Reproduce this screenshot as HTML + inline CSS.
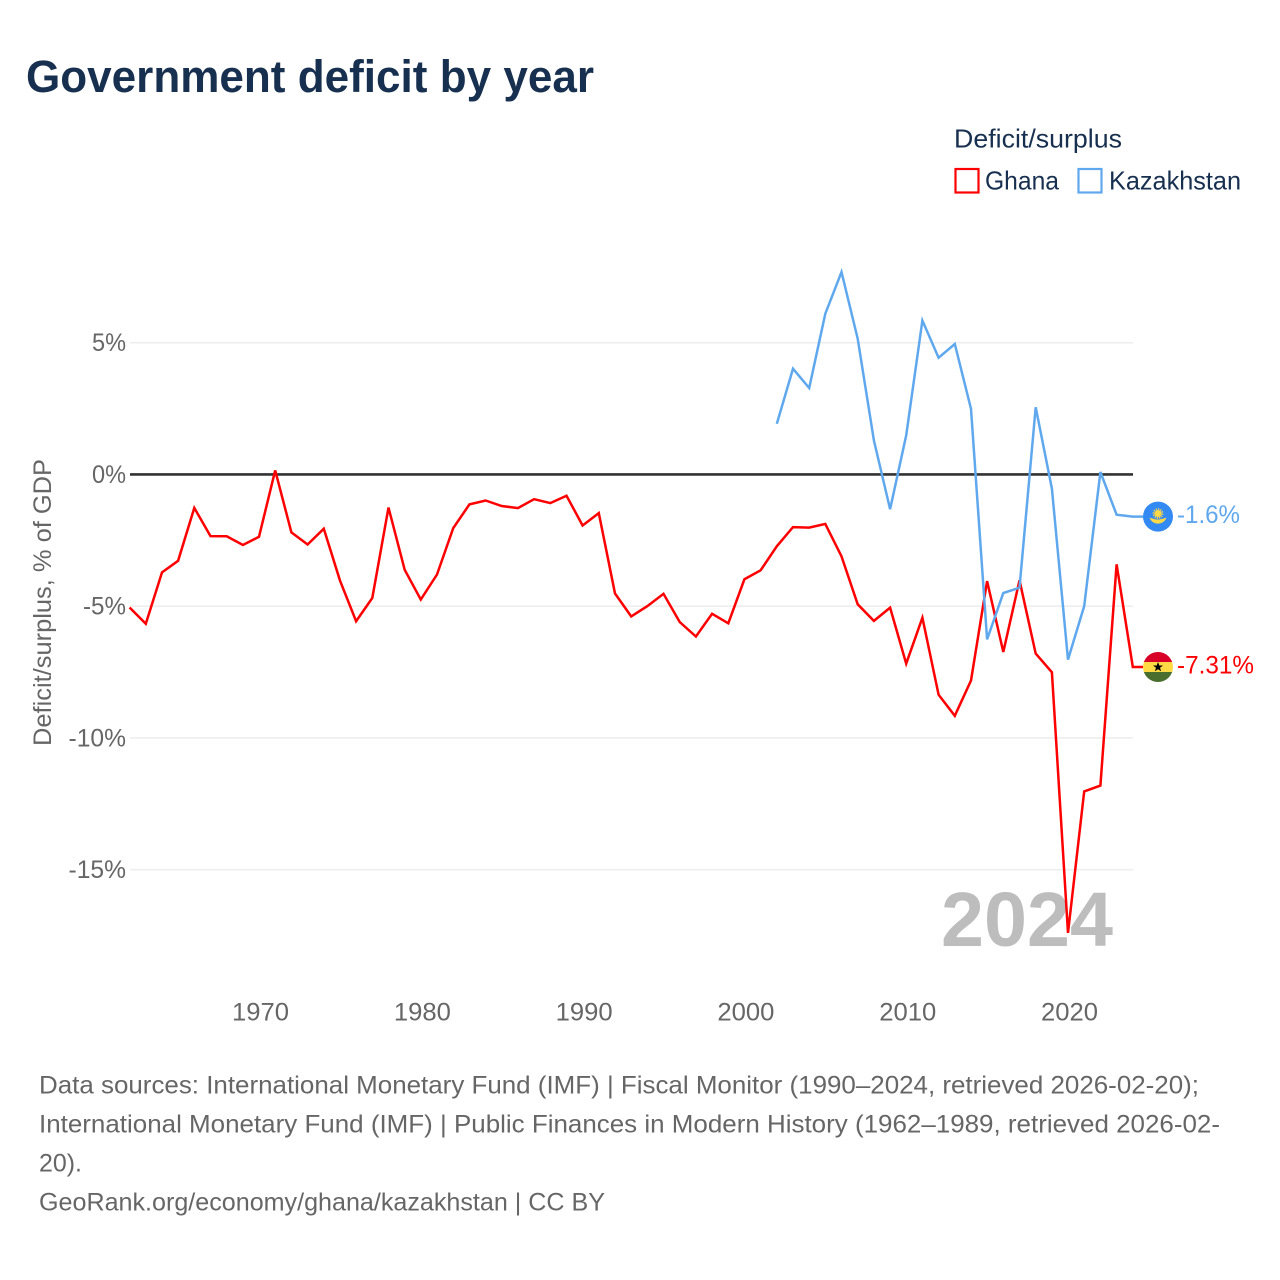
<!DOCTYPE html>
<html lang="en">
<head>
<meta charset="utf-8">
<title>Government deficit by year</title>
<style>
html,body{margin:0;padding:0;background:#fff;width:1280px;height:1280px;overflow:hidden}
svg{display:block;font-family:"Liberation Sans",sans-serif}
.tick{fill:#666;font-size:25px}
.foot{fill:#666;font-size:25px}
.leg{fill:#18304f;font-size:26px}
</style>
</head>
<body>
<svg id="chart" xmlns="http://www.w3.org/2000/svg" width="1280" height="1280" viewBox="0 0 1280 1280">
  <rect width="1280" height="1280" fill="#fff"/>
  <text x="26" y="92" font-size="45" font-weight="700" fill="#18304f" textLength="568" lengthAdjust="spacingAndGlyphs">Government deficit by year</text>

  <g>
    <text class="leg" x="954" y="147.5" textLength="168" lengthAdjust="spacingAndGlyphs">Deficit/surplus</text>
    <g>
      <rect x="955.5" y="169" width="23" height="23.5" fill="#fff" stroke="#ff0000" stroke-width="2.2"/>
      <text class="leg" x="985" y="189.5" textLength="74" lengthAdjust="spacingAndGlyphs">Ghana</text>
    </g>
    <g>
      <rect x="1078.5" y="169" width="23" height="23.5" fill="#fff" stroke="#5fa8ee" stroke-width="2.2"/>
      <text class="leg" x="1109" y="189.5" textLength="132" lengthAdjust="spacingAndGlyphs">Kazakhstan</text>
    </g>
  </g>

  <text transform="translate(51,746) rotate(-90)" font-size="25" fill="#666" textLength="287" lengthAdjust="spacingAndGlyphs">Deficit/surplus, % of GDP</text>

  <g id="grid"></g>
  <g id="yticks"></g>
  <g id="xticks"></g>

  <text x="941" y="946" font-size="77" font-weight="700" fill="#bdbdbd" textLength="172" lengthAdjust="spacingAndGlyphs">2024</text>

  <g id="series"></g>

  <g id="flag-kz">
    <circle r="15" fill="#338af3"/>
    <circle cy="-3" r="4.6" fill="none" stroke="#ffda44" stroke-width="1.6" stroke-dasharray="1.2 1.2"/>
    <circle cy="-3" r="3.6" fill="#ffda44"/>
    <path d="M-8.5 1 C-6 1.6 -3 3 0 3 C3 3 6 1.6 8.5 1 C7 5 3.5 7 0 7 C-3.5 7 -7 5 -8.5 1Z" fill="#ffda44"/>
  </g>
  <g id="flag-gh">
    <clipPath id="gh-clip"><circle r="15"/></clipPath>
    <g clip-path="url(#gh-clip)">
      <rect x="-15" y="-15" width="30" height="10" fill="#d80027"/>
      <rect x="-15" y="-5" width="30" height="10" fill="#ffda44"/>
      <rect x="-15" y="5" width="30" height="10" fill="#496e2d"/>
    </g>
    <path d="M0 -5 L1.3 -1.5 L5 -1.5 L2 0.8 L3.1 4.3 L0 2.2 L-3.1 4.3 L-2 0.8 L-5 -1.5 L-1.3 -1.5Z" fill="#000"/>
  </g>
  <text id="label-kz" x="1177" font-size="25" fill="#5fa8ee" textLength="63" lengthAdjust="spacingAndGlyphs"></text>
  <text id="label-gh" x="1177" font-size="25" fill="#ff0000" textLength="77" lengthAdjust="spacingAndGlyphs"></text>

  <g>
    <text class="foot" x="39" y="1093.5" textLength="1160" lengthAdjust="spacingAndGlyphs">Data sources: International Monetary Fund (IMF) | Fiscal Monitor (1990–2024, retrieved 2026-02-20);</text>
    <text class="foot" x="39" y="1132.5" textLength="1181" lengthAdjust="spacingAndGlyphs">International Monetary Fund (IMF) | Public Finances in Modern History (1962–1989, retrieved 2026-02-</text>
    <text class="foot" x="39" y="1171.5" textLength="43" lengthAdjust="spacingAndGlyphs">20).</text>
    <text class="foot" x="39" y="1210.5" textLength="566" lengthAdjust="spacingAndGlyphs">GeoRank.org/economy/ghana/kazakhstan | CC BY</text>
  </g>
</svg>
<script>
const ghanaStartYear = 1962;
const ghanaValues = [-5.05,-5.67,-3.72,-3.28,-1.27,-2.34,-2.35,-2.68,-2.37,0.15,-2.2,-2.66,-2.06,-4.02,-5.57,-4.69,-1.26,-3.62,-4.75,-3.8,-2.04,-1.14,-0.99,-1.2,-1.28,-0.94,-1.09,-0.81,-1.94,-1.47,-4.52,-5.39,-5.0,-4.53,-5.6,-6.15,-5.29,-5.65,-3.98,-3.64,-2.73,-2.0,-2.02,-1.88,-3.11,-4.93,-5.56,-5.06,-7.18,-5.44,-8.36,-9.16,-7.82,-4.05,-6.74,-4.02,-6.8,-7.51,-17.4,-12.03,-11.81,-3.41,-7.31];
const kazakhstanStartYear = 2002;
const kazakhstanValues = [1.92,4.01,3.28,6.1,7.68,5.15,1.29,-1.32,1.48,5.84,4.43,4.95,2.49,-6.26,-4.5,-4.3,2.55,-0.54,-7.03,-5.0,0.09,-1.53,-1.6];
const yTickValues = [5,0,-5,-10,-15];
const xTickYears = [1970,1980,1990,2000,2010,2020];

const NS = 'http://www.w3.org/2000/svg';
const x = yr => 129.6 + (yr - 1962) * 16.18;
const y = v => 474.4 - v * 26.35;
const mk = (parent, tag) => { const e = document.createElementNS(NS, tag); parent.appendChild(e); return e; };

const grid = document.getElementById('grid');
const yticks = document.getElementById('yticks');
yTickValues.forEach(v => {
  const l = mk(grid, 'line');
  
  
  l.setAttribute('x1', 130); l.setAttribute('x2', 1133);
  l.setAttribute('y1', y(v)); l.setAttribute('y2', y(v));
  l.setAttribute('stroke', v === 0 ? '#333' : '#eeeeee');
  l.setAttribute('stroke-width', v === 0 ? 2.6 : 1.6);
  const t = mk(yticks, 'text');
  const label = v + '%';
  
  
  t.setAttribute('class', 'tick');
  t.setAttribute('x', 126); t.setAttribute('y', y(v) + 8.5);
  t.setAttribute('text-anchor', 'end');
  t.setAttribute('textLength', 19.5 + 14.5 * String(Math.abs(v)).length + (v < 0 ? 9 : 0));
  t.setAttribute('lengthAdjust', 'spacingAndGlyphs');
  t.textContent = label;
});

const xticks = document.getElementById('xticks');
xTickYears.forEach(yr => {
  const t = mk(xticks, 'text');
  
  
  t.setAttribute('class', 'tick');
  t.setAttribute('x', x(yr) + 1.5); t.setAttribute('y', 1020.5);
  t.setAttribute('text-anchor', 'middle');
  t.setAttribute('textLength', 57);
  t.setAttribute('lengthAdjust', 'spacingAndGlyphs');
  t.textContent = yr;
});

const series = document.getElementById('series');
function drawSeries(values, start, color, flagId, labelId) {
  const pts = values.map((v, i) => x(start + i).toFixed(1) + ',' + y(v).toFixed(1));
  const last = values[values.length - 1];
  const ly = y(last);
  pts.push('1143,' + ly.toFixed(1));
  const p = mk(series, 'polyline');
  
  
  p.setAttribute('points', pts.join(' '));
  p.setAttribute('fill', 'none');
  p.setAttribute('stroke', color);
  p.setAttribute('stroke-width', 2.5);
  p.setAttribute('stroke-linejoin', 'miter');
  document.getElementById(flagId).setAttribute('transform', 'translate(1158,' + ly.toFixed(1) + ')');
  const lab = document.getElementById(labelId);
  lab.setAttribute('y', (ly + 6.5).toFixed(1));
  lab.textContent = last + '%';
}
drawSeries(ghanaValues, ghanaStartYear, '#ff0000', 'flag-gh', 'label-gh');
drawSeries(kazakhstanValues, kazakhstanStartYear, '#5fa8ee', 'flag-kz', 'label-kz');
</script>
</body>
</html>
